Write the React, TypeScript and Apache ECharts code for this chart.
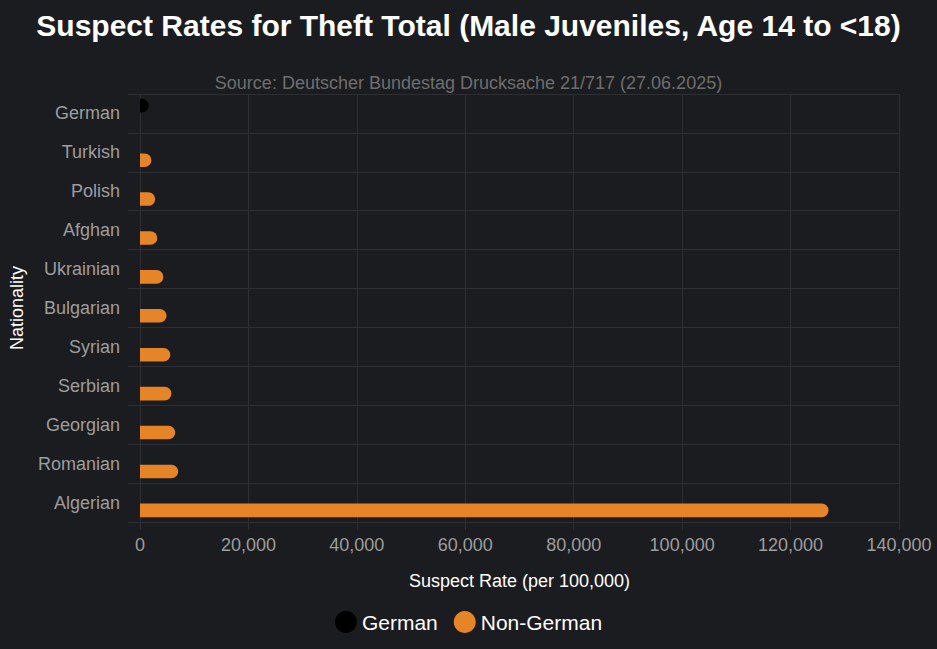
import React, { useEffect, useRef } from 'react';
import * as echarts from 'echarts';

const nationalities: string[] = [
  'German', 'Turkish', 'Polish', 'Afghan', 'Ukrainian', 'Bulgarian',
  'Syrian', 'Serbian', 'Georgian', 'Romanian', 'Algerian',
];
const germanRates: (number | null)[] = [1600, null, null, null, null, null, null, null, null, null, null];
const nonGermanRates: (number | null)[] = [null, 2100, 2800, 3200, 4300, 4900, 5600, 5800, 6500, 7050, 127000];

const FONT = '"Liberation Sans", Arial, sans-serif';

const App: React.FC = () => {
  const chartRef = useRef<HTMLDivElement>(null);

  useEffect(() => {
    if (!chartRef.current) return;
    document.body.style.margin = '0';
    const chart = echarts.init(chartRef.current, null, { renderer: 'svg' });
    chart.setOption({
      animation: false,
      backgroundColor: '#1b1c1f',
      textStyle: { fontFamily: FONT },
      title: {
        text: 'Suspect Rates for Theft Total (Male Juveniles, Age 14 to <18)',
        subtext: 'Source: Deutscher Bundestag Drucksache 21/717 (27.06.2025)',
        left: 'center',
        top: 5,
        itemGap: 34,
        textStyle: { color: '#ffffff', fontSize: 30, fontWeight: 'bold', fontFamily: FONT },
        subtextStyle: { color: '#6e6e6e', fontSize: 18, fontFamily: FONT },
      },
      legend: {
        bottom: 11,
        left: 'center',
        icon: 'circle',
        itemWidth: 22,
        itemHeight: 22,
        itemGap: 16,
        textStyle: { color: '#ffffff', fontSize: 21, fontFamily: FONT },
        data: ['German', 'Non-German'],
      },
      grid: { left: 137, right: 38, top: 94, bottom: 127 },
      xAxis: {
        type: 'value',
        min: 0,
        max: 140000,
        interval: 20000,
        name: 'Suspect Rate (per 100,000)',
        nameLocation: 'middle',
        nameGap: 50,
        nameTextStyle: { color: '#ffffff', fontSize: 18 },
        axisLabel: {
          color: '#9d9d9d',
          fontSize: 18,
          margin: 14,
          formatter: (v: number) => v.toLocaleString('en-US'),
        },
        axisLine: { show: false },
        axisTick: { show: true, length: 8, lineStyle: { color: '#2e2f33' } },
        splitLine: { show: true, lineStyle: { color: '#2e2f33' } },
      },
      yAxis: {
        type: 'category',
        inverse: true,
        data: nationalities,
        name: 'Nationality',
        nameLocation: 'middle',
        nameGap: 114,
        nameTextStyle: { color: '#ffffff', fontSize: 18 },
        axisLabel: { color: '#9d9d9d', fontSize: 18, margin: 20 },
        axisLine: { show: false },
        axisTick: { show: true, length: 12, lineStyle: { color: '#2e2f33' } },
        splitLine: { show: true, lineStyle: { color: '#2e2f33' } },
      },
      series: [
        {
          name: 'German',
          type: 'bar',
          data: germanRates,
          barCategoryGap: '25%',
          barGap: '15%',
          itemStyle: { color: '#000000', borderRadius: [0, 7, 7, 0] },
        },
        {
          name: 'Non-German',
          type: 'bar',
          data: nonGermanRates,
          barCategoryGap: '25%',
          barGap: '15%',
          itemStyle: { color: '#e68428', borderRadius: [0, 7, 7, 0] },
        },
      ],
    });
    return () => chart.dispose();
  }, []);

  return <div ref={chartRef} style={{ width: 937, height: 649 }} />;
};

export default App;
